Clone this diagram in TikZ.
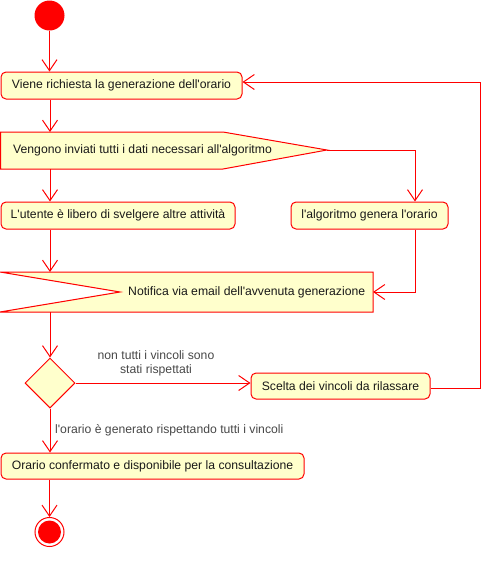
\documentclass[tikz,border=0pt]{standalone}
\usepackage{fontspec}
\setmainfont{Liberation Sans}[Ligatures=TeXOff]
\usetikzlibrary{arrows.meta,shapes.geometric}
\definecolor{umlred}{HTML}{FF0000}
\definecolor{umlfill}{HTML}{FFFFCC}
\begin{document}
\begin{tikzpicture}[x=1pt,y=-1pt,
  txt/.style={font=\fontsize{12.2}{14}\selectfont, text=black!90},
  act/.style={txt, draw=umlred, fill=umlfill, rounded corners=5pt, line width=1pt, inner sep=0pt},
  sig/.style={draw=umlred, fill=umlfill, line width=1pt},
  flow/.style={draw=umlred, line width=1pt, -{Straight Barb[length=11pt,width=15pt]}},
  line/.style={draw=umlred, line width=1pt},
  lbl/.style={font=\fontsize{12.2}{14}\selectfont, text=black!72, inner sep=0pt}]
\useasboundingbox (0,0) rectangle (492,563);

% start
\node (start) [circle, fill=umlred, minimum size=30pt, inner sep=0pt] at (49.5,15.5) {};

% activities
\node (b1) [act, minimum width=241pt, minimum height=27pt] at (121.5,85.5) {Viene richiesta la generazione dell'orario};

% send signal
\draw[sig] (0.5,132) -- (223,132) -- (327,150) -- (223,169) -- (0.5,169) -- cycle;
\coordinate (sendtop) at (50,132);
\coordinate (sendbot) at (50,169);
\coordinate (sendtip) at (327,150);
\node (send) [txt, anchor=west, inner sep=0pt] at (13,150) {Vengono inviati tutti i dati necessari all'algoritmo};

\node (ut) [act, minimum width=234pt, minimum height=27pt] at (118,215.5) {L'utente è libero di svelgere altre attività};
\node (alg) [act, minimum width=157pt, minimum height=27pt] at (369.5,215.5) {l'algoritmo genera l'orario};

% receive signal
\draw[sig] (0,272) -- (373,272) -- (373,312) -- (0,312) -- (120,292) -- cycle;
\coordinate (rectop) at (50,272);
\coordinate (recbot) at (50,312);
\coordinate (recright) at (373,292);
\node (rec) [txt, anchor=west, inner sep=0pt] at (128,292) {Notifica via email dell'avvenuta generazione};

% decision
\node (dec) [diamond, draw=umlred, fill=umlfill, line width=1pt, inner sep=0pt, minimum width=50pt, minimum height=50pt] at (50,383) {};

\node (sc) [act, minimum width=179pt, minimum height=26pt] at (340.5,386) {Scelta dei vincoli da rilassare};
\node (fin) [act, minimum width=303pt, minimum height=26pt] at (152.5,466) {Orario confermato e disponibile per la consultazione};

% end
\node (end) [circle, draw=umlred, fill=white, line width=1pt, minimum size=29pt, inner sep=0pt] at (49.5,532) {};
\node (endin) [circle, fill=umlred, minimum size=23pt, inner sep=0pt] at (end) {};

% connectors
\draw[flow] (start.south) -- (start.south |- b1.north);
\draw[flow] (b1.south -| sendtop) -- (sendtop);
\draw[flow] (sendtip) -| (alg.north -| 415,0);
\draw[flow] (sendbot) -- (sendbot |- ut.north);
\draw[flow] (ut.south -| rectop) -- (rectop);
\draw[flow] (alg.south -| 415,0) |- (recright);
\draw[flow] (recbot) -- (dec.north);
\draw[flow] (dec.east) -- (sc.west |- dec.east);
\coordinate (loopa) at (480,388);
\coordinate (loopb) at (480,82);
\draw[flow] (sc.east |- loopa) -- (loopa) -- (loopb) -- (b1.east |- loopb);
\draw[flow] (dec.south) -- (dec.south |- fin.north);
\draw[flow] (fin.south -| end) -- (end.north);

% labels
\node (l1) [lbl, align=center] at (156,363) {non tutti i vincoli sono\\stati rispettati};
\node (l2) [lbl, anchor=west] at (55,430) {l'orario è generato rispettando tutti i vincoli};
\end{tikzpicture}
\end{document}
